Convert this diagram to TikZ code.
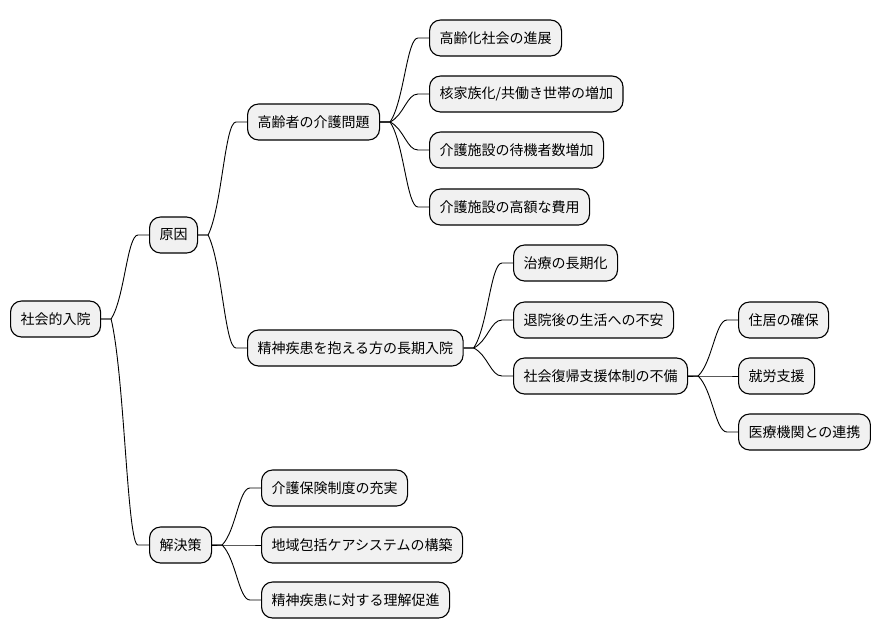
\documentclass[tikz,border=0pt]{standalone}
\usepackage{fontspec}
\setmainfont{Noto Sans CJK JP}
\usetikzlibrary{calc}
\definecolor{boxfill}{HTML}{F1F1F1}
\tikzset{
  x=1pt,y=-1pt,
  mmbox/.style={draw=black, fill=boxfill, line width=1.1pt, rounded corners=11pt,
    minimum height=36pt, inner xsep=10pt, inner ysep=0pt, anchor=west,
    font=\fontsize{14}{16}\selectfont, text=black},
  link/.style={draw=black, line width=0.9pt}
}
\newcommand{\mmlink}[2]{%
  \draw[link] let \p1=($(#1.east)+(10,0)$), \p2=($(#2.west)+(-11,0)$) in
    (#1.east) -- (\p1)
    .. controls ({\x1+0.5*(\x2-\x1)},{\y1+0.25*(\y2-\y1)}) and ({\x1+0.6*(\x2-\x1)},{\y2}) ..
    (\p2) -- (#2.west);}
\begin{document}
\begin{tikzpicture}
\useasboundingbox (0,0) rectangle (880,640);
\node[mmbox] (root) at (10,319) {社会的入院};
\node[mmbox] (cause) at (149,235) {原因};
\node[mmbox] (sol) at (149,545) {解決策};
\node[mmbox] (care) at (247,122) {高齢者の介護問題};
\node[mmbox] (mental) at (247,348) {精神疾患を抱える方の長期入院};
\node[mmbox] (c1) at (429,38) {高齢化社会の進展};
\node[mmbox] (c2) at (429,94) {核家族化/共働き世帯の増加};
\node[mmbox] (c3) at (429,150) {介護施設の待機者数増加};
\node[mmbox] (c4) at (429,207) {介護施設の高額な費用};
\node[mmbox] (m1) at (513,263) {治療の長期化};
\node[mmbox] (m2) at (513,320) {退院後の生活への不安};
\node[mmbox] (m3) at (513,376) {社会復帰支援体制の不備};
\node[mmbox] (r1) at (738,320) {住居の確保};
\node[mmbox] (r2) at (738,376) {就労支援};
\node[mmbox] (r3) at (738,432) {医療機関との連携};
\node[mmbox] (s1) at (261,488) {介護保険制度の充実};
\node[mmbox] (s2) at (261,545) {地域包括ケアシステムの構築};
\node[mmbox] (s3) at (261,600) {精神疾患に対する理解促進};
\mmlink{root}{cause}
\mmlink{root}{sol}
\mmlink{cause}{care}
\mmlink{cause}{mental}
\mmlink{care}{c1}
\mmlink{care}{c2}
\mmlink{care}{c3}
\mmlink{care}{c4}
\mmlink{mental}{m1}
\mmlink{mental}{m2}
\mmlink{mental}{m3}
\mmlink{m3}{r1}
\mmlink{m3}{r2}
\mmlink{m3}{r3}
\mmlink{sol}{s1}
\mmlink{sol}{s2}
\mmlink{sol}{s3}
\end{tikzpicture}
\end{document}
